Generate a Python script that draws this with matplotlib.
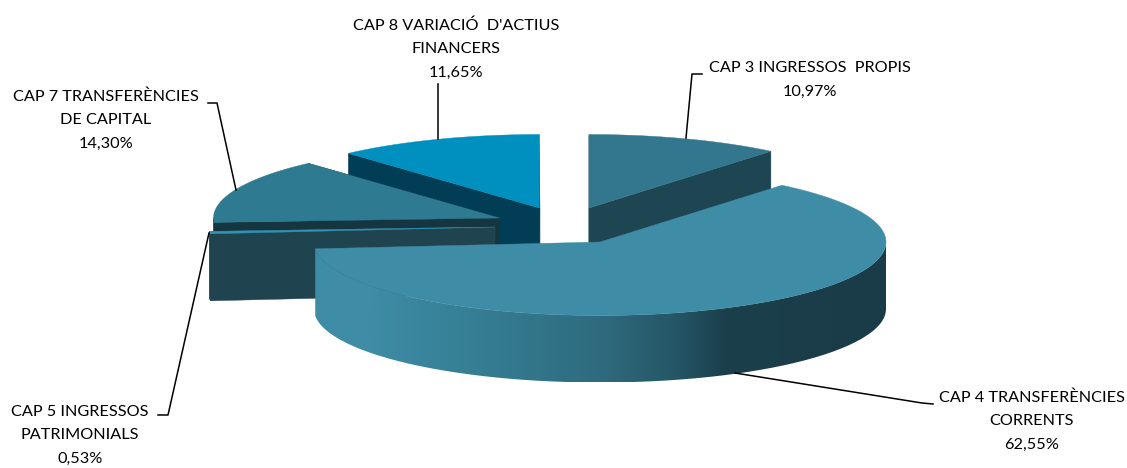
import matplotlib
matplotlib.use('Agg')
import matplotlib.pyplot as plt
from matplotlib.colors import LinearSegmentedColormap
from matplotlib.patches import PathPatch
from matplotlib.path import Path
import numpy as np

W, H = 1127, 468

# data
labels = ["CAP 3 INGRESSOS  PROPIS", "CAP 4 TRANSFERÈNCIES\nCORRENTS", "CAP 5 INGRESSOS\nPATRIMONIALS",
          "CAP 7 TRANSFERÈNCIES\nDE CAPITAL", "CAP 8 VARIACIÓ  D'ACTIUS\nFINANCERS"]
values = [10.97, 62.55, 0.53, 14.30, 11.65]
value_labels = ["10,97%", "62,55%", "0,53%", "14,30%", "11,65%"]

# pie centre of each exploded slice, pixels
centres = [(589, 208), (600, 242), (495, 227), (499.5, 218), (539.5, 208)]
top_cols = ['#33778e', '#3e8ca5', '#2f93b3', '#2e7a91', '#0090bf']
wall_cols = ['#1e4652', '#1a3c48', '#1f4450', '#153540', '#013e55']
draw_order = [4, 0, 3, 2, 1]

RX, RY, DEPTH = 286, 73.5, 67

label_xy = [(810, 80), (1032, 421), (80, 435), (106, 120), (456, 49)]
leaders = [[(686, 138), (692, 74), (702, 74)],
           [(735, 373), (922, 403), (933, 404)],
           [(209, 233), (168, 415), (158, 415)],
           [(236, 190), (217, 103), (208, 103)],
           [(438, 139), (438, 84)]]

plt.rcParams['font.family'] = ['Lato', 'DejaVu Sans']

fig = plt.figure(figsize=(W / 100, H / 100), dpi=100)
ax = fig.add_axes([0, 0, 1, 1])
ax.set_xlim(0, W)
ax.set_ylim(H, 0)
ax.axis('off')

# slice angles, clockwise from 12 o'clock
edges = np.concatenate([[0], np.cumsum(values)]) / np.sum(values) * 2 * np.pi


def rim(cx, cy, a0, a1, n=120):
    t = np.linspace(a0, a1, n)
    return np.column_stack([cx + RX * np.sin(t), cy - RY * np.cos(t)])


def add_poly(pts, col, z):
    ax.fill(pts[:, 0], pts[:, 1], color=col, lw=0.3, zorder=z)


side_cmap = LinearSegmentedColormap.from_list('side', [
    (0.00, '#3e8ca5'), (0.10, '#3e8ca5'), (0.27, '#367f95'), (0.50, '#2f6b7e'),
    (0.64, '#245565'), (0.72, '#1b3f4b'), (1.00, '#1a3c48')])

for z, i in enumerate(draw_order):
    cx, cy = centres[i]
    a0, a1 = edges[i], edges[i + 1]
    arc = rim(cx, cy, a0, a1)
    tip = np.array([[cx, cy]])

    # flat walls on the two cut edges, the big slice hides its own
    if i != 1:
        for a in (a0, a1):
            end = rim(cx, cy, a, a, 1)
            wall = np.vstack([tip, end, end + [0, DEPTH], tip + [0, DEPTH]])
            add_poly(wall, wall_cols[i], z + 2)

    # outer curved wall, only the part turned to the viewer
    b0, b1 = max(a0, np.pi / 2), min(a1, 3 * np.pi / 2)
    if b1 > b0:
        front = rim(cx, cy, b0, b1)
        outer = np.vstack([front, front[::-1] + [0, DEPTH]])
        if i == 1:
            x0, x1 = outer[:, 0].min(), outer[:, 0].max()
            y0, y1 = outer[:, 1].min(), outer[:, 1].max()
            img = ax.imshow(np.linspace(0, 1, 256).reshape(1, -1), cmap=side_cmap,
                            extent=[x0, x1, y1, y0], aspect='auto', zorder=z + 2)
            img.set_clip_path(PathPatch(Path(outer), transform=ax.transData))
            ax.set_xlim(0, W)
            ax.set_ylim(H, 0)
        else:
            add_poly(outer, wall_cols[i], z + 2)

    add_poly(np.vstack([tip, arc]), top_cols[i], z + 2.5)

for i in range(len(values)):
    x, y = label_xy[i]
    ax.text(x, y, labels[i] + "\n" + value_labels[i], ha='center', va='center',
            fontsize=11.7, color='#000000', linespacing=1.86, zorder=10)
    line = np.array(leaders[i])
    ax.plot(line[:, 0], line[:, 1], color='black', lw=1.1, zorder=9)

fig.savefig('out.png', dpi=100)
